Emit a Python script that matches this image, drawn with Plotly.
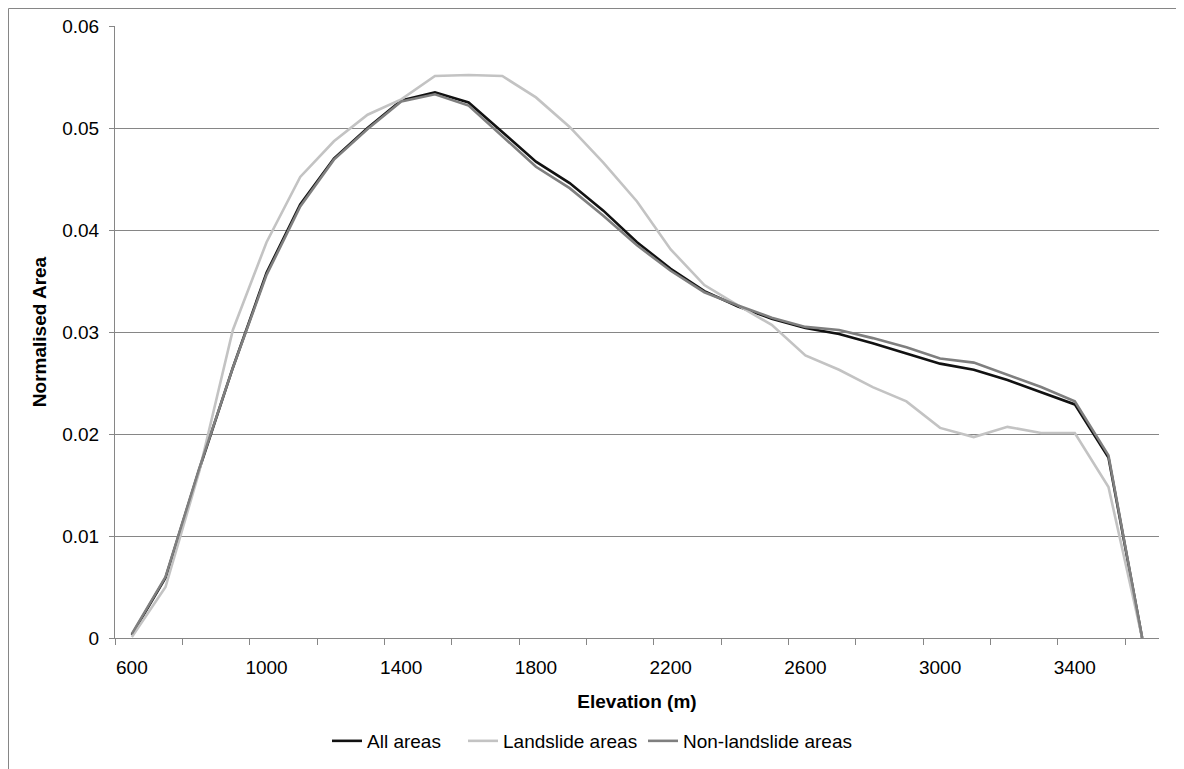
import plotly.graph_objects as go

elevation = [600, 700, 800, 900, 1000, 1100, 1200, 1300, 1400, 1500, 1600, 1700, 1800, 1900, 2000,
             2100, 2200, 2300, 2400, 2500, 2600, 2700, 2800, 2900, 3000, 3100, 3200, 3300, 3400, 3500, 3600]

all_areas = [0.0003, 0.0059, 0.0165, 0.0265, 0.0358, 0.0425, 0.0470, 0.0500, 0.0527, 0.0535, 0.0525,
             0.0496, 0.0467, 0.0446, 0.0419, 0.0388, 0.0362, 0.0340, 0.0325, 0.0313, 0.0304, 0.0298,
             0.0289, 0.0279, 0.0269, 0.0263, 0.0253, 0.0241, 0.0229, 0.0177, 0.0]

landslide = [0.0001, 0.0050, 0.0163, 0.0302, 0.0388, 0.0452, 0.0487, 0.0513, 0.0528, 0.0551, 0.0552,
             0.0551, 0.0530, 0.0501, 0.0466, 0.0428, 0.0381, 0.0346, 0.0326, 0.0307, 0.0277, 0.0263,
             0.0246, 0.0232, 0.0206, 0.0197, 0.0207, 0.0201, 0.0201, 0.0148, 0.0]

non_landslide = [0.0004, 0.0060, 0.0166, 0.0265, 0.0356, 0.0423, 0.0469, 0.0499, 0.0526, 0.0533, 0.0522,
                 0.0492, 0.0462, 0.0441, 0.0414, 0.0385, 0.0360, 0.0339, 0.0326, 0.0314, 0.0305, 0.0302,
                 0.0294, 0.0285, 0.0274, 0.0270, 0.0258, 0.0246, 0.0232, 0.0179, 0.0]

x_label_values = [600, 1000, 1400, 1800, 2200, 2600, 3000, 3400]
x_tick_marks = [550, 750, 950, 1150, 1350, 1550, 1750, 1950, 2150, 2350, 2550, 2750, 2950, 3150, 3350, 3550]
x_range = [550, 3650]

FONT = "Liberation Sans, Arial, sans-serif"
AXIS_GRAY = "#868686"
FS = 19

# page has an 8px body margin; layout below is expressed so the plot area
# lands at page x 115..1159, y 26..638
OFF = 8
W, H = 1176, 761
L, T = 115 - OFF, 26 - OFF
R = W - (1159 - OFF)
B = H - (638 - OFF)
pw = W - L - R
ph = H - T - B

def px(page_x):
    return (page_x - 115) / pw

def py(page_y):
    return (638 - page_y) / ph

fig = go.Figure()
fig.add_trace(go.Scatter(x=elevation, y=all_areas, mode="lines", name="All areas",
                         line=dict(color="#111111", width=2.6), legend="legend"))
fig.add_trace(go.Scatter(x=elevation, y=landslide, mode="lines", name="Landslide areas",
                         line=dict(color="#c3c3c3", width=2.6), legend="legend2"))
fig.add_trace(go.Scatter(x=elevation, y=non_landslide, mode="lines", name="Non-landslide areas",
                         line=dict(color="#7f7f7f", width=2.6), legend="legend3"))
# invisible trace that activates the label axis
fig.add_trace(go.Scatter(x=[x_range[0]], y=[0], xaxis="x2", mode="markers",
                         marker=dict(opacity=0), showlegend=False, hoverinfo="skip"))

leg_common = dict(orientation="h", xanchor="left", yanchor="middle", y=py(741),
                  font=dict(size=FS), bgcolor="rgba(0,0,0,0)", itemwidth=30)

fig.update_layout(
    width=W, height=H,
    margin=dict(l=L, r=R, t=T, b=B, autoexpand=False),
    paper_bgcolor="white", plot_bgcolor="white",
    font=dict(family=FONT, size=FS, color="#000000"),
    xaxis=dict(range=x_range, tickmode="array", tickvals=x_tick_marks, showticklabels=False,
               ticks="outside", ticklen=6, tickcolor=AXIS_GRAY, tickwidth=1,
               showline=True, linecolor=AXIS_GRAY, linewidth=1, showgrid=False, zeroline=False,
               automargin=False),
    xaxis2=dict(range=x_range, overlaying="x", side="bottom", anchor="y", tickmode="array",
                tickvals=x_label_values, ticktext=[str(v) for v in x_label_values],
                ticks="", showline=False, showgrid=False, zeroline=False, automargin=False,
                ticklabelstandoff=16,
                title=dict(text="<b>Elevation (m)</b>", font=dict(size=FS), standoff=17)),
    yaxis=dict(range=[0, 0.06], tickmode="linear", tick0=0, dtick=0.01,
               ticks="outside", ticklen=5, tickcolor=AXIS_GRAY, tickwidth=1,
               showline=True, linecolor=AXIS_GRAY, linewidth=1,
               showgrid=True, gridcolor=AXIS_GRAY, gridwidth=1, zeroline=False,
               ticklabelstandoff=6, automargin=False,
               title=dict(text="<b>Normalised Area</b>", font=dict(size=FS), standoff=10)),
    legend=dict(x=px(327), **leg_common),
    legend2=dict(x=px(463), **leg_common),
    legend3=dict(x=px(643), **leg_common),
    shapes=[dict(type="rect", xref="paper", yref="paper",
                 x0=px(8.5), x1=px(1180), y0=py(800), y1=py(8.5),
                 line=dict(color=AXIS_GRAY, width=1), fillcolor="rgba(0,0,0,0)", layer="below")],
    showlegend=True,
)

fig.write_html("out.html")
